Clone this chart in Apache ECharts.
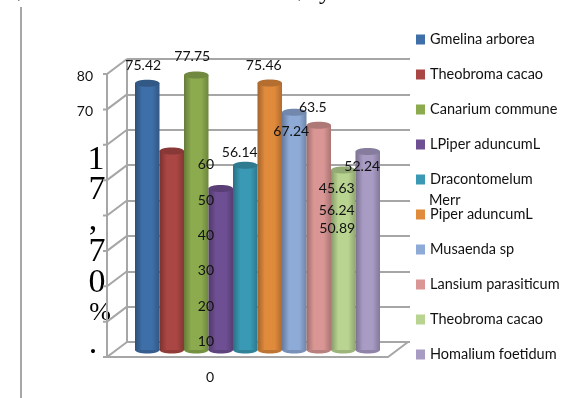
<!DOCTYPE html>
<html>
<head>
<meta charset="utf-8">
<style>
  html, body { margin: 0; padding: 0; background: #fff; }
  #chart { width: 565px; height: 398px; }
</style>
<script src="https://cdn.jsdelivr.net/npm/echarts@6/dist/echarts.min.js"></script>
</head>
<body>
<div id="chart"></div>
<script>
const speciesNames = ['Gmelina arborea', 'Theobroma cacao', 'Canarium commune', 'LPiper aduncumL', 'Dracontomelum Merr',
  'Piper aduncumL', 'Musaenda sp', 'Lansium parasiticum', 'Theobroma cacao ', 'Homalium foetidum'];
const speciesValues = [75.42, 56.24, 77.75, 45.63, 52.24, 75.46, 67.24, 63.5, 50.89, 56.14];
const barColors = ['#3f6fa8', '#aa4643', '#8cab4e', '#6f4f93', '#3a9ab5', '#e08a3c', '#8eabd8', '#d99694', '#b9d491', '#a89bc4'];
// the labels in the picture are scattered away from their bars, px from the bar top
const labelShift = [[-4, -18], [165, 59], [-4, -18], [116, 0], [117, 1], [-6, -18], [-3, 19], [-6, -18], [-6, 59], [-128, 1]];
const yTicks = [0, 10, 20, 30, 40, 50, 60, 70, 80];

const myChart = echarts.init(document.getElementById('chart'));

function shade(hex, k) {
  const n = parseInt(hex.slice(1), 16);
  const c = [n >> 16, (n >> 8) & 255, n & 255].map(v => Math.min(255, Math.round(v * k)));
  return 'rgb(' + c.join(',') + ')';
}

// back wall ticks joined to the front axis
function renderWall(params, api) {
  const cs = params.coordSys;
  const y = api.coord([0, api.value(0)])[1];
  const lineStyle = { stroke: '#a6a6a6', lineWidth: 2, fill: null };
  const front = [cs.x - 20, y + 15];
  const children = [
    { type: 'polyline', shape: { points: [[cs.x, y], front, [front[0] - 4, front[1]]] }, style: lineStyle }
  ];
  if (params.dataIndex === 0) {
    const topY = cs.y;
    children.push(
      { type: 'line', shape: { x1: cs.x, y1: topY, x2: cs.x, y2: y }, style: lineStyle },
      { type: 'line', shape: { x1: front[0], y1: topY + 15, x2: front[0], y2: front[1] }, style: lineStyle },
      { type: 'polyline', shape: { points: [[front[0], front[1]], [cs.x + cs.width - 22, front[1]], [cs.x + cs.width - 2, y]] }, style: lineStyle }
    );
  }
  return { type: 'group', children: children };
}

function cylinder(i) {
  return function (params, api) {
    const top = api.coord([i, api.value(1)]);
    const base = api.coord([i, 0]);
    const w = api.size([1, 0])[0];
    const left = top[0] - w / 2;
    const color = barColors[i];
    const body = new echarts.graphic.LinearGradient(0, 0, 1, 0, [
      { offset: 0, color: shade(color, 0.72) },
      { offset: 0.3, color: color },
      { offset: 0.7, color: color },
      { offset: 1, color: shade(color, 0.78) }
    ]);
    return {
      type: 'group',
      children: [
        { type: 'ellipse', shape: { cx: top[0], cy: base[1], rx: w / 2, ry: 3.5 }, style: { fill: shade(color, 0.85) } },
        { type: 'rect', shape: { x: left, y: top[1], width: w, height: base[1] - top[1] }, style: { fill: body } },
        { type: 'ellipse', shape: { cx: top[0], cy: top[1], rx: w / 2, ry: 3.5 }, style: { fill: shade(color, 0.8) } },
        {
          type: 'text', z2: 100,
          x: top[0] + labelShift[i][0], y: top[1] + labelShift[i][1],
          style: { text: String(api.value(1)), fill: '#111', font: '14px Lato', align: 'center', verticalAlign: 'middle' }
        }
      ]
    };
  };
}

const hiddenX = g => ({ gridIndex: g, type: 'value', min: 0, max: 1, show: false });
const tickAxis = (g, show) => ({
  gridIndex: g, type: 'value', min: 0, max: 80, interval: 10, z: 10,
  axisLine: { show: false }, axisTick: { show: false }, splitLine: { show: false },
  axisLabel: {
    color: '#111', fontFamily: 'Lato', fontSize: 14, margin: 0,
    formatter: v => (show(v) ? String(v) : '')
  }
});

const option = {
  animation: false,
  textStyle: { fontFamily: 'Lato' },
  grid: [
    { left: 127, top: 59, width: 283, height: 283 },   // back wall
    { left: 93, top: 76, width: 100, height: 283 },    // labels 70, 80
    { left: 214, top: 94, width: 100, height: 283 },   // labels 0 to 60
    { left: 135, top: 67, width: 245, height: 283 }    // bars
  ],
  xAxis: [
    hiddenX(0), hiddenX(1), hiddenX(2),
    { gridIndex: 3, type: 'category', data: speciesNames.map((n, i) => i), show: false }
  ],
  yAxis: [
    {
      gridIndex: 0, type: 'value', min: 0, max: 80, interval: 10,
      axisLine: { show: false }, axisTick: { show: false }, axisLabel: { show: false },
      splitLine: { lineStyle: { color: '#a6a6a6', width: 2 } }
    },
    tickAxis(1, v => v >= 70),
    tickAxis(2, v => v <= 60),
    { gridIndex: 3, type: 'value', min: 0, max: 80, interval: 10, show: false }
  ],
  legend: {
    left: 416, top: 32, orient: 'vertical', icon: 'rect', padding: 0,
    itemWidth: 9, itemHeight: 10, itemGap: 20,
    selectedMode: false,
    data: speciesNames,
    formatter: n => n.replace(' Merr', ''),
    textStyle: { color: '#111', fontFamily: 'Lato', fontSize: 14.5, padding: [3, 0, 0, 0] }
  },
  series: [
    {
      type: 'custom', name: 'wall', xAxisIndex: 0, yAxisIndex: 0, silent: true,
      data: yTicks.map(v => [v]), encode: { y: 0 }, renderItem: renderWall
    }
  ].concat(speciesNames.map((name, i) => ({
    type: 'custom', name: name, xAxisIndex: 3, yAxisIndex: 3,
    itemStyle: { color: barColors[i] },
    data: [[i, speciesValues[i]]], encode: { x: 0, y: 1 },
    renderItem: cylinder(i)
  }))),
  graphic: [
    { type: 'line', shape: { x1: 21, y1: 7, x2: 21, y2: 398 }, style: { stroke: '#a6a6a6', lineWidth: 2 } },
    { type: 'text', x: 429, y: 200, style: { text: 'Merr', fill: '#111', font: '14.5px Lato', verticalAlign: 'middle' } },
    { type: 'text', x: 96, y: 160, style: { text: '1', fill: '#000', font: '34px "Liberation Serif"', align: 'center', verticalAlign: 'middle' } },
    { type: 'text', x: 97, y: 190, style: { text: '7', fill: '#000', font: '34px "Liberation Serif"', align: 'center', verticalAlign: 'middle' } },
    { type: 'text', x: 93, y: 221, style: { text: ',', fill: '#000', font: '34px "Liberation Serif"', align: 'center', verticalAlign: 'middle' } },
    { type: 'text', x: 97, y: 252, style: { text: '7', fill: '#000', font: '34px "Liberation Serif"', align: 'center', verticalAlign: 'middle' } },
    { type: 'text', x: 97, y: 283, style: { text: '0', fill: '#000', font: '34px "Liberation Serif"', align: 'center', verticalAlign: 'middle' } },
    { type: 'text', x: 100, y: 313, style: { text: '%', fill: '#000', font: '26px "Liberation Serif"', align: 'center', verticalAlign: 'middle' } },
    { type: 'text', x: 93, y: 344, style: { text: '.', fill: '#000', font: '34px "Liberation Serif"', align: 'center', verticalAlign: 'middle' } },
    { type: 'text', x: 16, y: -10, style: { text: '(', fill: '#000', font: '24px "Liberation Serif"', align: 'center', verticalAlign: 'middle' } },
    { type: 'text', x: 302, y: -10, style: { text: ')', fill: '#000', font: '24px "Liberation Serif"', align: 'center', verticalAlign: 'middle' } },
    { type: 'text', x: 325, y: -7, style: { text: 'y', fill: '#000', font: '24px "Liberation Serif"', align: 'center', verticalAlign: 'middle' } }
  ]
};

myChart.setOption(option);
</script>
</body>
</html>
